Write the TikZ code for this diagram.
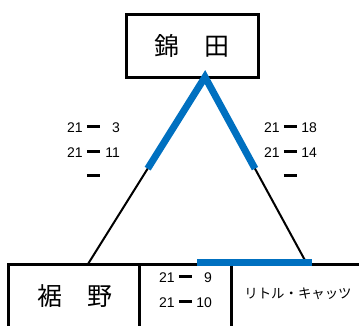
\documentclass[tikz,border=0pt]{standalone}
\usepackage{fontspec}
\setmainfont{Liberation Sans}
\newfontfamily\jpfont{Noto Sans CJK JP}
\usetikzlibrary{calc}
\definecolor{winblue}{RGB}{0,112,192}
% 得点の区切り線
\newcommand{\sdash}{\hspace{0.3em}\rule[0.3em]{0.9em}{2.6pt}\hspace{0.35em}}
\tikzset{
  teambox/.style={draw, line width=3pt, inner sep=0pt},
  teamname/.style={font=\jpfont\fontsize{25}{28}\selectfont},
  score/.style={anchor=base west, inner sep=0pt, font=\fontsize{14}{16}\selectfont},
  bracket/.style={black, line width=2pt},
  winline/.style={winblue, line width=7pt},
}
\begin{document}
\begin{tikzpicture}[x=1pt, y=-1pt]
  \useasboundingbox (0,0) rectangle (359,325);
  \clip (0,0) rectangle (359,325);

  % 上のチーム
  \node[teambox, minimum width=132pt, minimum height=63pt, teamname] (nishikida) at (192,45.5) {錦　田};

  % 下のチーム
  \draw[line width=3pt] (8,345) -- (8,264) -- (370,264);
  \draw[line width=3pt] (139,264) -- (139,345);
  \draw[line width=3pt] (231,264) -- (231,345);
  \node[teamname] (susono) at (75,296) {裾　野};
  \node[font=\jpfont\fontsize{13.4}{16}\selectfont] (cats) at (298,294) {リトル・キャッツ};

  % トーナメントの線
  \coordinate (apex) at (205,77);
  \coordinate (leftfoot) at (88,264);
  \coordinate (rightfoot) at (307,264);
  \draw[bracket] (apex) -- (leftfoot);
  \draw[bracket] (apex) -- (rightfoot);

  % 勝ち上がり
  \draw[winline, miter limit=10] ($(apex)!0.49!(leftfoot)$) -- (apex) -- ($(apex)!0.49!(rightfoot)$);
  \coordinate (winleft) at (197,262);
  \coordinate (winright) at (312,262);
  \draw[winline] (winleft) -- (winright);

  % 得点
  \node[score] (ln1) at (67,132) {21\sdash\makebox[1.1em][r]{3}};
  \node[score] (ln2) at (67,157) {21\sdash\makebox[1.1em][r]{11}};
  \node[score] (ln3) at (67,181) {\phantom{21}\sdash};
  \node[score] (rn1) at (264,132) {21\sdash\makebox[1.1em][r]{18}};
  \node[score] (rn2) at (264,157) {21\sdash\makebox[1.1em][r]{14}};
  \node[score] (rn3) at (264,181) {\phantom{21}\sdash};
  \node[score] (bn1) at (159,282) {21\sdash\makebox[1.1em][r]{9}};
  \node[score] (bn2) at (159,307) {21\sdash\makebox[1.1em][r]{10}};
\end{tikzpicture}
\end{document}
